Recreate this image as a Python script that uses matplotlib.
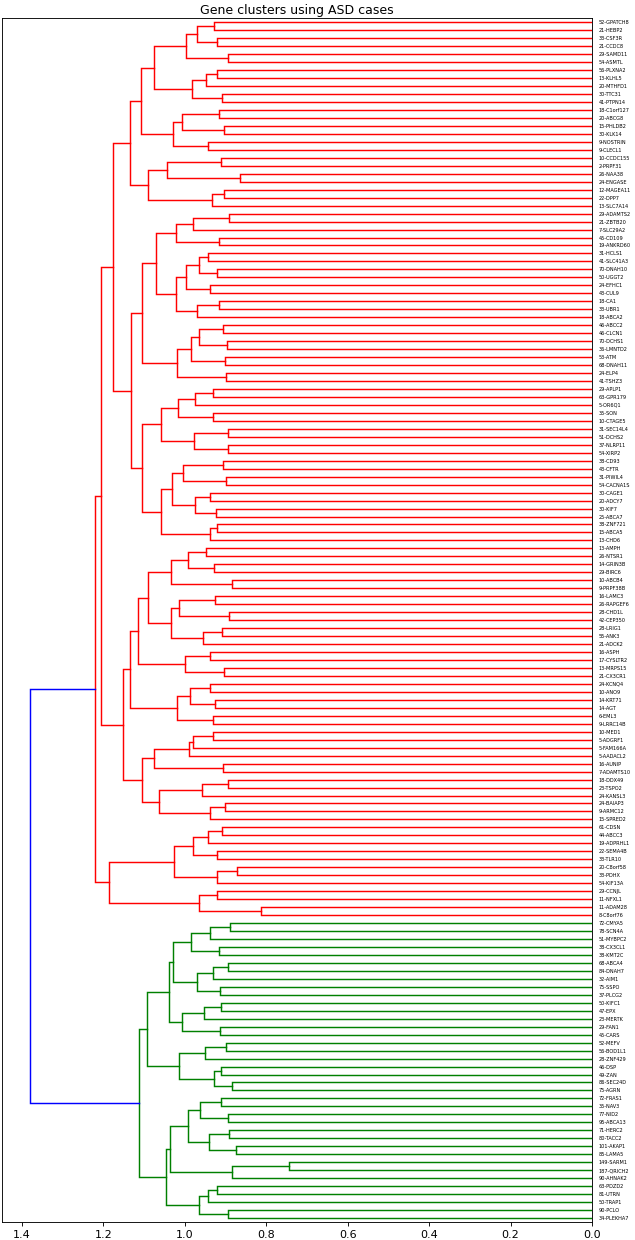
import matplotlib
matplotlib.use("Agg")
import matplotlib.pyplot as plt

# Leaf labels, top to bottom
leaf_labels = [
    "52-GPATCH8", "21-HEBP2", "33-CSF3R", "21-CCDC8", "29-SAMD11", "54-ASMTL",
    "56-PLXNA2", "13-KLHL5", "20-MTHFD1", "30-TTC31", "41-PTPN14", "18-C1orf127",
    "20-ABCG8", "15-PHLDB2", "30-KLK14", "9-NOSTRIN", "9-CLECL1", "10-CCDC155",
    "2-PRPF31", "26-NAA38", "24-ENGASE", "12-MAGEA11", "22-DPP7", "13-SLC7A14",
    "29-ADAMTS2", "21-ZBTB20", "7-SLC29A2", "45-CD109", "19-ANKRD60", "31-HCLS1",
    "41-SLC41A3", "70-DNAH10", "50-UGGT2", "24-EFHC1", "43-CUL9", "18-CA1",
    "33-UBR1", "18-ABCA2", "46-ABCC2", "46-CLCN1", "70-DCHS1", "36-LMNTD2",
    "53-ATM", "68-DNAH11", "24-ELP4", "41-TSHZ3", "29-APLP1", "63-GPR179",
    "5-OR6Q1", "35-SON", "10-CTAGE5", "31-SEC14L4", "51-DCHS2", "37-NLRP11",
    "54-XIRP2", "38-CD93", "43-CFTR", "31-PIWIL4", "54-CACNA1S", "30-CAGE1",
    "20-ADCY7", "30-KIF7", "25-ABCA7", "38-ZNF721", "15-ABCA5", "13-CHD6",
    "13-AMPH", "26-NTSR1", "14-GRIN3B", "29-BIRC6", "10-ABCB4", "9-PRPF38B",
    "16-LAMC3", "26-RAPGEF6", "28-CHD1L", "42-CEP350", "28-LRIG1", "55-ANK3",
    "21-ADCK2", "16-ASPH", "17-CYSLTR2", "13-MRPS15", "21-CX3CR1", "24-KCNQ4",
    "10-ANO9", "14-KRT71", "14-AGT", "6-EML3", "9-LRRC14B", "10-MED1",
    "5-ADGRF1", "5-FAM166A", "5-AADACL2", "16-AUNIP", "7-ADAMTS10", "18-DDX49",
    "23-TSPO2", "24-KANSL3", "24-BAIAP3", "9-ARMC12", "15-SPRED2", "61-CDSN",
    "44-ABCC3", "19-ADPRHL1", "22-SEMA4B", "33-TLR10", "20-C8orf58", "33-PDHX",
    "54-KIF13A", "29-CCNJL", "11-NFXL1", "11-ADAM28", "8-C8orf76",
    "72-CMYA5", "78-SCN4A", "51-MYBPC2", "38-CX3CL1", "38-KMT2C", "68-ABCA4",
    "84-DNAH7", "32-AIM1", "75-SSPO", "37-PLCG2", "50-KIFC1", "47-EPX",
    "23-MERTK", "29-FAN1", "45-CARS", "52-MEFV", "56-BOD1L1", "28-ZNF429",
    "46-DSP", "49-ZAN", "86-SEC24D", "75-AGRN", "72-FRAS1", "35-NAV3",
    "77-NID2", "95-ABCA13", "71-HERC2", "80-TACC2", "101-AKAP1", "85-LAMA5",
    "149-SARM1", "187-QRICH2", "90-AHNAK2", "63-PDZD2", "81-UTRN", "50-TRAP1",
    "90-PCLO", "34-PLEKHA7",
]

# Merges: (first leaf, first leaf of right child, last leaf, height); 1-based leaf indices
red_merges = [
    (1, 2, 2, 0.928), (3, 4, 4, 0.920), (1, 3, 4, 0.969), (5, 6, 6, 0.895),
    (1, 5, 6, 0.998), (7, 8, 8, 0.922), (7, 9, 9, 0.947), (10, 11, 11, 0.909),
    (7, 10, 11, 0.982), (1, 7, 11, 1.075), (12, 13, 13, 0.916), (14, 15, 15, 0.905),
    (12, 14, 15, 1.007), (16, 17, 17, 0.943), (12, 16, 17, 1.029), (1, 12, 17, 1.108),
    (18, 19, 19, 0.910), (20, 21, 21, 0.865), (18, 20, 21, 1.044), (22, 23, 23, 0.904),
    (22, 24, 24, 0.934), (18, 22, 24, 1.090), (1, 18, 24, 1.135),
    (25, 26, 26, 0.891), (25, 27, 27, 0.980), (28, 29, 29, 0.916), (25, 28, 29, 1.022),
    (30, 31, 31, 0.942), (32, 33, 33, 0.920), (30, 32, 33, 0.966), (34, 35, 35, 0.939),
    (30, 34, 35, 0.996), (36, 37, 37, 0.916), (36, 38, 38, 0.969), (30, 36, 38, 1.022),
    (25, 30, 38, 1.071), (39, 40, 40, 0.906), (41, 42, 42, 0.897), (39, 41, 42, 0.966),
    (43, 44, 44, 0.901), (39, 43, 44, 0.985), (45, 46, 46, 0.898), (39, 45, 46, 1.020),
    (25, 39, 46, 1.104), (47, 48, 48, 0.932), (47, 49, 49, 0.975), (50, 51, 51, 0.930),
    (47, 50, 51, 1.016), (52, 53, 53, 0.893), (54, 55, 55, 0.893), (52, 54, 55, 0.978),
    (47, 52, 55, 1.058), (56, 57, 57, 0.907), (58, 59, 59, 0.898), (56, 58, 59, 1.004),
    (60, 61, 61, 0.939), (62, 63, 63, 0.923), (60, 62, 63, 0.975), (56, 60, 63, 1.032),
    (64, 65, 65, 0.920), (64, 66, 66, 0.937), (56, 64, 66, 1.058), (47, 56, 66, 1.104),
    (25, 47, 66, 1.133), (1, 25, 66, 1.176),
    (67, 68, 68, 0.947), (69, 70, 70, 0.928), (67, 69, 70, 0.992), (71, 72, 72, 0.884),
    (67, 71, 72, 1.035), (73, 74, 74, 0.925), (75, 76, 76, 0.891), (73, 75, 76, 1.014),
    (77, 78, 78, 0.909), (77, 79, 79, 0.956), (73, 77, 79, 1.034), (67, 73, 79, 1.091),
    (80, 81, 81, 0.938), (82, 83, 83, 0.905), (80, 82, 83, 0.999), (67, 80, 83, 1.114),
    (84, 85, 85, 0.939), (86, 87, 87, 0.925), (84, 86, 87, 0.987), (88, 89, 89, 0.931),
    (84, 88, 89, 1.018), (67, 84, 89, 1.135), (90, 91, 91, 0.930), (90, 92, 92, 0.979),
    (90, 93, 93, 0.990), (94, 95, 95, 0.906), (90, 94, 95, 1.076), (96, 97, 97, 0.893),
    (96, 98, 98, 0.957), (99, 100, 100, 0.902), (99, 101, 101, 0.939), (96, 99, 101, 1.063),
    (90, 96, 101, 1.104), (67, 90, 101, 1.152), (1, 67, 101, 1.207),
    (102, 103, 103, 0.909), (102, 104, 104, 0.943), (105, 106, 106, 0.922),
    (102, 105, 106, 0.980), (107, 108, 108, 0.873), (107, 109, 109, 0.920),
    (102, 107, 109, 1.027), (110, 111, 111, 0.920), (112, 113, 113, 0.813),
    (110, 112, 113, 0.965), (102, 110, 113, 1.186), (1, 102, 113, 1.221),
]

green_merges = [
    (114, 115, 115, 0.889), (114, 116, 116, 0.937), (117, 118, 118, 0.916),
    (114, 117, 118, 0.984), (119, 120, 120, 0.893), (119, 121, 121, 0.930),
    (122, 123, 123, 0.914), (119, 122, 123, 0.969), (114, 119, 123, 1.029),
    (124, 125, 125, 0.912), (124, 126, 126, 0.954), (127, 128, 128, 0.914),
    (124, 127, 128, 1.007), (114, 124, 128, 1.038), (129, 130, 130, 0.899),
    (129, 131, 131, 0.950), (132, 133, 133, 0.910), (134, 135, 135, 0.884),
    (132, 134, 135, 0.929), (129, 132, 135, 1.015), (114, 129, 135, 1.092),
    (136, 137, 137, 0.911), (138, 139, 139, 0.893), (136, 138, 139, 0.963),
    (140, 141, 141, 0.891), (142, 143, 143, 0.875), (140, 142, 143, 0.940),
    (136, 140, 143, 0.993), (144, 145, 145, 0.743), (144, 146, 146, 0.884),
    (136, 144, 146, 1.037), (147, 148, 148, 0.920), (147, 149, 149, 0.943),
    (150, 151, 151, 0.895), (147, 150, 151, 0.966), (136, 147, 151, 1.047),
    (114, 136, 151, 1.112),
]

root_merges = [(1, 114, 151, 1.380)]

title = "Gene clusters using ASD cases"
x_ticks = [1.4, 1.2, 1.0, 0.8, 0.6, 0.4, 0.2, 0.0]

W, H, DPI = 635, 1240, 80
fig = plt.figure(figsize=(W / DPI, H / DPI), dpi=DPI)
ax = fig.add_axes([2.0 / W, 1 - 1222.0 / H, (592.0 - 2.0) / W, (1222.0 - 18.3) / H])

n = len(leaf_labels)
# node info: (lo, hi) -> (height, position)
nodes = {(i, i): (0.0, float(i)) for i in range(1, n + 1)}

groups = [(red_merges, "r"), (green_merges, "g"), (root_merges, "b")]
all_merges = []
for merges, col in groups:
    for m in merges:
        all_merges.append((m, col))
all_merges.sort(key=lambda t: (t[0][2] - t[0][0], t[0][3]))

for (lo, sp, hi, h), col in all_merges:
    hl, yl = nodes[(lo, sp - 1)]
    hr, yr = nodes[(sp, hi)]
    ax.plot([hl, h, h, hr], [yl, yl, yr, yr], color=col, lw=1.3, solid_joinstyle="miter")
    nodes[(lo, hi)] = (h, (yl + yr) / 2.0)

max_h = max(m[3] for m in root_merges)
ax.set_xlim(max_h * 1.05, 0)
ax.set_ylim(n + 0.5, 0.5)
ax.set_xticks(x_ticks)
ax.set_xticklabels([f"{t:.1f}" for t in x_ticks], fontsize=10)
ax.set_yticks(range(1, n + 1))
ax.set_yticklabels(leaf_labels, fontsize=4.5)
ax.yaxis.set_ticks_position("right")
for line in ax.get_yticklines():
    line.set_visible(False)
ax.tick_params(axis="y", pad=2.5)
ax.set_title(title, fontsize=11.3, pad=4)

fig.savefig("out.png", dpi=DPI)
